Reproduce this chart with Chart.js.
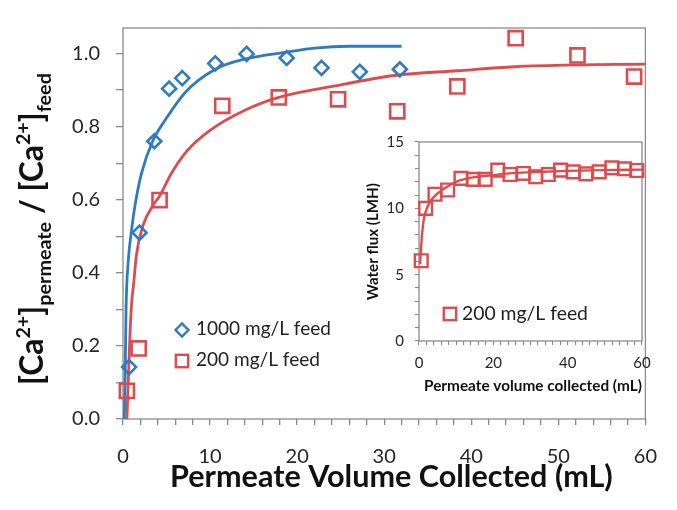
<!DOCTYPE html>
<html>
<head>
<meta charset="utf-8">
<script src="https://cdn.jsdelivr.net/npm/chart.js@4.4.1/dist/chart.umd.min.js"></script>
<style>
html, body { margin: 0; padding: 0; background: #fff; }
#wrap { position: relative; width: 677px; height: 510px; }
#main { position: absolute; left: 0; top: 0; }
#inset { position: absolute; left: 330px; top: 120px; }
</style>
</head>
<body>
<div id="wrap">
  <canvas id="main" width="677" height="510"></canvas>
  <canvas id="inset" width="330" height="290"></canvas>
</div>
<script>
// main plot: Ca2+ ratio vs permeate volume
var blueX = [0.7, 1.9, 3.6, 5.3, 6.8, 10.6, 14.2, 18.8, 22.8, 27.2, 31.8];
var blueY = [0.142, 0.51, 0.76, 0.904, 0.933, 0.973, 0.999, 0.988, 0.961, 0.950, 0.957];
var redX  = [0.45, 1.8, 4.2, 11.4, 17.9, 24.7, 31.5, 38.4, 45.1, 52.2, 58.7];
var redY  = [0.077, 0.193, 0.599, 0.857, 0.88, 0.875, 0.842, 0.91, 1.042, 0.995, 0.937];

// fitted curves
var blueFitX = [0.15, 0.25, 0.35, 0.6, 1.0, 1.35, 2.1, 3.4, 4.9, 7.2, 10.6, 14, 18.8, 22, 26, 32];
var blueFitY = [0, 0.12, 0.3, 0.43, 0.52, 0.58, 0.67, 0.76, 0.82, 0.895, 0.957, 0.985, 1.004, 1.015, 1.02, 1.02];
var redFitX  = [0.45, 0.6, 0.8, 1.0, 1.2, 1.55, 2.3, 3.6, 4.2, 5.5, 7.4, 10, 14, 17.9, 24, 31.2, 38.4, 45, 52, 60];
var redFitY  = [0, 0.1, 0.23, 0.32, 0.365, 0.45, 0.53, 0.59, 0.61, 0.67, 0.735, 0.79, 0.845, 0.88, 0.91, 0.94, 0.953, 0.964, 0.969, 0.971];

// inset: water flux
var fluxX = [0.6, 1.8, 4.3, 7.7, 11.3, 14.6, 17.8, 21.2, 24.5, 28.1, 31.4, 34.8, 38.1, 41.5, 44.9, 48.5, 51.9, 55.3, 58.6];
var fluxY = [6.05, 10.0, 11.06, 11.38, 12.26, 12.18, 12.18, 12.88, 12.55, 12.63, 12.38, 12.55, 12.88, 12.75, 12.6, 12.75, 13.05, 12.98, 12.85];
var fluxFitX = [0.3, 0.7, 1.2, 2, 3, 4.5, 6.6, 9, 11, 15, 20, 25, 30, 40, 50, 60];
var fluxFitY = [5.8, 7.6, 9.0, 9.9, 10.5, 11.0, 11.45, 11.85, 12.1, 12.35, 12.5, 12.65, 12.72, 12.82, 12.88, 12.92];

var seriesLabels = ['1000 mg/L feed', '200 mg/L feed'];
var xTitle = 'Permeate Volume Collected (mL)';
var insetXTitle = 'Permeate volume collected (mL)';
var insetYTitle = 'Water flux (LMH)';

var BLUE = '#2E7BC0', RED = '#DF4A4C', FRAME = '#8A8A8A', TXT = '#262626';
var FONT = 'Lato, "Open Sans", sans-serif';

function pts(xs, ys) {
  return xs.map(function(x, i) { return {x: x, y: ys[i]}; });
}

// font size that makes text exactly w pixels wide
function fitSize(ctx, text, weight, w) {
  ctx.font = weight + ' 100px ' + FONT;
  return 100 * w / ctx.measureText(text).width;
}

function drawDiamond(ctx, x, y, r) {
  ctx.beginPath();
  ctx.moveTo(x - r, y); ctx.lineTo(x, y - r); ctx.lineTo(x + r, y); ctx.lineTo(x, y + r);
  ctx.closePath(); ctx.stroke();
}
function drawSquare(ctx, x, y, h) {
  ctx.strokeRect(x - h, y - h, 2 * h, 2 * h);
}

var framePlugin = {
  id: 'frame',
  beforeDatasetsDraw: function(chart) {
    var a = chart.chartArea, ctx = chart.ctx;
    ctx.save();
    ctx.strokeStyle = FRAME;
    ctx.lineWidth = 1.3;
    ctx.strokeRect(a.left, a.top, a.right - a.left, a.bottom - a.top);
    ctx.restore();
  }
};

var mainText = {
  id: 'mainText',
  afterDraw: function(chart) {
    var ctx = chart.ctx;
    ctx.save();
    ctx.fillStyle = '#111';
    ctx.textBaseline = 'alphabetic';

    // x title
    var s = fitSize(ctx, xTitle, 'bold', 443);
    ctx.font = 'bold ' + s + 'px ' + FONT;
    ctx.textAlign = 'left';
    ctx.fillText(xTitle, 170, 487);

    // y title with super/subscripts
    var parts = [['[Ca', 0], ['2+', 1], [']', 0], ['permeate', -1], [' / [Ca', 0], ['2+', 1], [']', 0], ['feed', -1]];
    var small = 0.62;
    function f(k, sz) { return 'bold ' + (k ? sz * small : sz) + 'px ' + FONT; }
    var total = 0, size = 28;
    parts.forEach(function(p) { ctx.font = f(p[1], size); total += ctx.measureText(p[0]).width; });
    size = size * 312 / total;
    ctx.translate(43, 229);
    ctx.rotate(-Math.PI / 2);
    var x = -156;
    parts.forEach(function(p) {
      ctx.font = f(p[1], size);
      var dy = p[1] === 1 ? -size * 0.42 : (p[1] === -1 ? size * 0.24 : 0);
      ctx.fillText(p[0], x, dy);
      x += ctx.measureText(p[0]).width;
    });
    ctx.restore();

    // legend
    ctx.save();
    var ls = fitSize(ctx, seriesLabels[1], 'normal', 124);
    ctx.font = ls + 'px ' + FONT;
    ctx.fillStyle = '#222';
    ctx.lineWidth = 2.4;
    ctx.strokeStyle = BLUE;
    drawDiamond(ctx, 182, 330, 6.5);
    ctx.fillText(seriesLabels[0], 196, 335);
    ctx.strokeStyle = RED;
    drawSquare(ctx, 182, 361, 6.2);
    ctx.fillText(seriesLabels[1], 196, 366);
    ctx.restore();
  }
};

var mainChart = new Chart(document.getElementById('main'), {
  type: 'scatter',
  data: {
    datasets: [
      { label: seriesLabels[0], data: pts(blueX, blueY), pointStyle: 'rectRot', pointRadius: 7, clip: false,
        borderColor: BLUE, backgroundColor: 'rgba(0,0,0,0)', pointBorderWidth: 2.6, showLine: false },
      { label: seriesLabels[1], data: pts(redX, redY), pointStyle: 'rect', pointRadius: 10, clip: false,
        borderColor: RED, backgroundColor: 'rgba(0,0,0,0)', pointBorderWidth: 2.6, showLine: false },
      { label: 'fit 1000', data: pts(blueFitX, blueFitY), showLine: true, pointRadius: 0,
        borderColor: BLUE, borderWidth: 2.8, cubicInterpolationMode: 'monotone' },
      { label: 'fit 200', data: pts(redFitX, redFitY), showLine: true, pointRadius: 0,
        borderColor: RED, borderWidth: 2.8, cubicInterpolationMode: 'monotone' }
    ]
  },
  options: {
    responsive: false,
    animation: false,
    layout: { padding: { top: 17, right: 21, left: 0, bottom: 0 } },
    plugins: { legend: { display: false }, tooltip: { enabled: false } },
    scales: {
      x: {
        type: 'linear', min: 0, max: 60,
        afterFit: function(s) { s.height = 91; },
        ticks: { stepSize: 2, autoSkip: false, maxRotation: 0, padding: 20, color: TXT,
          font: { family: FONT, size: 20 },
          callback: function(v) { return v % 10 === 0 ? String(v) : ''; } },
        grid: { drawOnChartArea: false, drawTicks: true, tickLength: 6, color: FRAME, lineWidth: 1.3 },
        border: { display: false }
      },
      y: {
        type: 'linear', min: 0, max: 1.07,
        afterFit: function(s) { s.width = 123; },
        afterBuildTicks: function(s) { s.ticks = s.ticks.filter(function(t) { return t.value <= 1.0001; }); },
        ticks: { stepSize: 0.1, autoSkip: false, padding: 16, color: TXT,
          font: { family: FONT, size: 20 },
          callback: function(v) { return Math.round(v * 10) % 2 === 0 ? v.toFixed(1) : ''; } },
        grid: { drawOnChartArea: false, drawTicks: true, tickLength: 7, color: FRAME, lineWidth: 1.3 },
        border: { display: false }
      }
    }
  },
  plugins: [framePlugin, mainText]
});

// inset chart, drawn on its own canvas placed at (330,120)
var OX = 330, OY = 120;
var insetText = {
  id: 'insetText',
  afterDraw: function(chart) {
    var ctx = chart.ctx;
    ctx.save();
    ctx.fillStyle = '#111';
    var s = fitSize(ctx, insetXTitle, 'bold', 218);
    ctx.font = 'bold ' + s + 'px ' + FONT;
    ctx.fillText(insetXTitle, 424 - OX, 390.5 - OY);

    s = fitSize(ctx, insetYTitle, 'bold', 117);
    ctx.font = 'bold ' + s + 'px ' + FONT;
    ctx.translate(378 - OX, 241.5 - OY);
    ctx.rotate(-Math.PI / 2);
    ctx.fillText(insetYTitle, -58.5, 0);
    ctx.restore();

    ctx.save();
    var ls = fitSize(ctx, seriesLabels[1], 'normal', 126);
    ctx.font = ls + 'px ' + FONT;
    ctx.fillStyle = '#222';
    ctx.strokeStyle = RED;
    ctx.lineWidth = 2.4;
    drawSquare(ctx, 450 - OX, 314 - OY, 6.2);
    ctx.fillText(seriesLabels[1], 462 - OX, 320 - OY);
    ctx.restore();
  }
};

var insetChart = new Chart(document.getElementById('inset'), {
  type: 'scatter',
  data: {
    datasets: [
      { label: seriesLabels[1], data: pts(fluxX, fluxY), pointStyle: 'rect', pointRadius: 9, clip: false,
        borderColor: RED, backgroundColor: 'rgba(0,0,0,0)', pointBorderWidth: 2.4, showLine: false },
      { label: 'flux fit', data: pts(fluxFitX, fluxFitY), showLine: true, pointRadius: 0,
        borderColor: RED, borderWidth: 2.4, cubicInterpolationMode: 'monotone' }
    ]
  },
  options: {
    responsive: false,
    animation: false,
    layout: { padding: { top: 22, right: 18, left: 0, bottom: 0 } },
    plugins: { legend: { display: false }, tooltip: { enabled: false } },
    scales: {
      x: {
        type: 'linear', min: 0, max: 60,
        afterFit: function(s) { s.height = 69; },
        ticks: { stepSize: 2, autoSkip: false, maxRotation: 0, padding: 9, color: TXT,
          font: { family: FONT, size: 15 },
          callback: function(v) { return v % 20 === 0 ? String(v) : ''; } },
        grid: { drawOnChartArea: false, drawTicks: true, tickLength: 4, color: FRAME, lineWidth: 1.1 },
        border: { display: false }
      },
      y: {
        type: 'linear', min: 0, max: 15,
        afterFit: function(s) { s.width = 89; },
        ticks: { stepSize: 1, autoSkip: false, padding: 11, color: TXT,
          font: { family: FONT, size: 15 },
          callback: function(v) { return v % 5 === 0 ? String(v) : ''; } },
        grid: { drawOnChartArea: false, drawTicks: true, tickLength: 4, color: FRAME, lineWidth: 1.1 },
        border: { display: false }
      }
    }
  },
  plugins: [framePlugin, insetText]
});
</script>
</body>
</html>
